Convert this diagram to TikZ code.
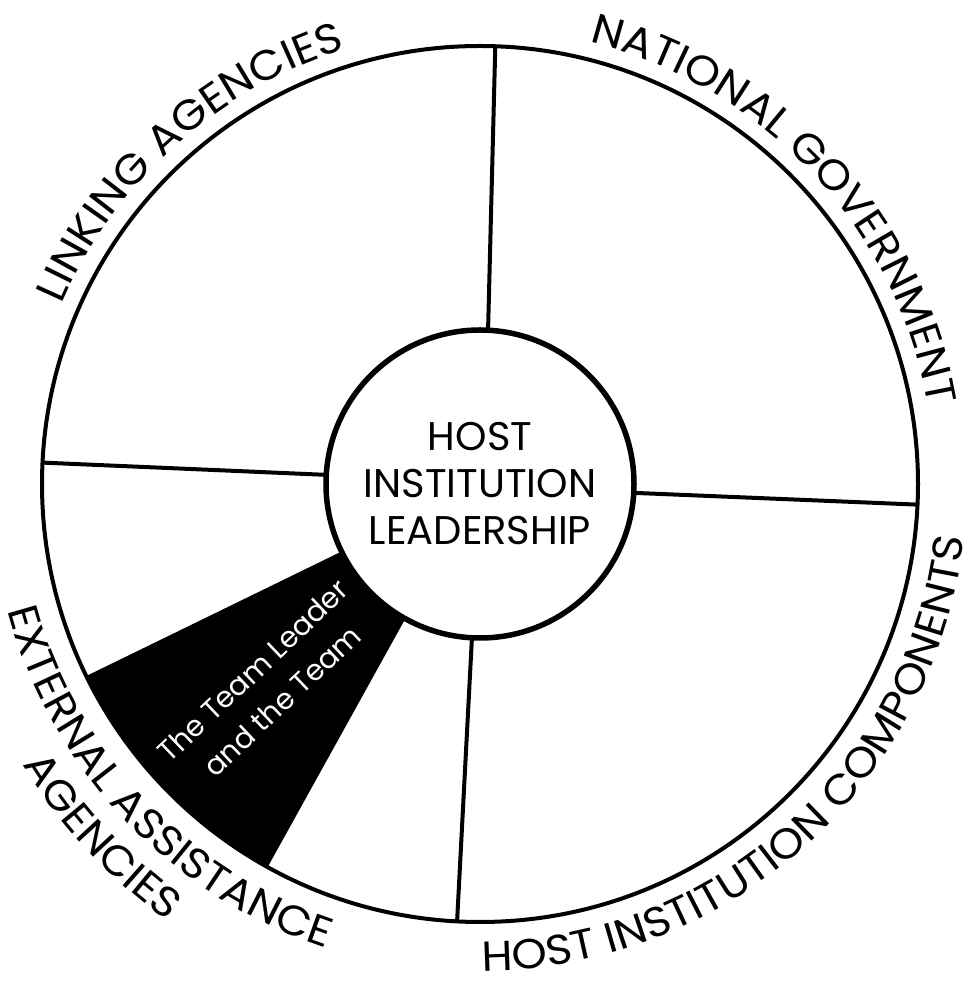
\documentclass[tikz,border=0pt]{standalone}
\usepackage{fontspec}
\setmainfont{Poppins}
\newfontfamily\labelfont[FakeStretch=1.07]{Poppins}
\usetikzlibrary{decorations.text,calc}
\tikzset{
  ring/.style={circle, draw, line width=4pt, inner sep=0pt, outer sep=0pt},
  hub/.style={circle, draw, fill=white, line width=5.5pt, inner sep=0pt, outer sep=0pt,
    align=center, font=\fontsize{40}{47}\selectfont},
  divider/.style={line width=4pt},
  teamtext/.style={text=white, align=center, font=\fontsize{29}{42}\selectfont},
  outerlabel/.style={decorate, decoration={text along path, text align=center,
    text={|\labelfont\fontsize{42}{50}\selectfont|#1}}},
}
\begin{document}
\begin{tikzpicture}[x=1pt,y=1pt]
\useasboundingbox (0,0) rectangle (976,983);
\coordinate (C) at (480,499);
% the team sector
\fill[black] ($(C)+(206:154)$) -- ($(C)+(206:438)$)
  arc[start angle=206, end angle=241, radius=438]
  -- ($(C)+(241:154)$) arc[start angle=241, end angle=206, radius=154] -- cycle;
% outer ring
\node[ring, minimum size=876pt] (outer) at (C) {};
% divider end points
\path (C) ++(87:154) coordinate (tin) (C) ++(88:438) coordinate (tout);
\path (C) ++(-3.3:154) coordinate (rin) (C) ++(-2.7:438) coordinate (rout);
\path (C) ++(-93:154) coordinate (bin) (C) ++(-93:438) coordinate (bout);
\path (C) ++(176.6:154) coordinate (lin) (C) ++(177.2:438) coordinate (lout);
\draw[divider] (tin) -- (tout);
\draw[divider] (rin) -- (rout);
\draw[divider] (bin) -- (bout);
\draw[divider] (lin) -- (lout);
% hub
\node[hub, minimum size=308pt] (hub) at (C) {HOST\\INSTITUTION\\LEADERSHIP};
% team text
\node[teamtext, rotate=43.5] (team) at ($(C)+(223.5:293)$) {The Team Leader\\and the Team};
% outer labels
\path[outerlabel=LINKING AGENCIES] ($(C)+(166:455)$) arc[start angle=166, end angle=98, radius=455];
\path[outerlabel=NATIONAL GOVERNMENT] ($(C)+(88:455)$) arc[start angle=88, end angle=-2, radius=455];
\path[outerlabel=HOST INSTITUTION COMPONENTS] ($(C)+(-110:487)$) arc[start angle=-110, end angle=14, radius=487];
\path[outerlabel=EXTERNAL ASSISTANCE] ($(C)+(180:489)$) arc[start angle=180, end angle=266.6, radius=489];
\path[outerlabel=AGENCIES] ($(C)+(195:537)$) arc[start angle=195, end angle=251, radius=537];
\end{tikzpicture}
\end{document}
